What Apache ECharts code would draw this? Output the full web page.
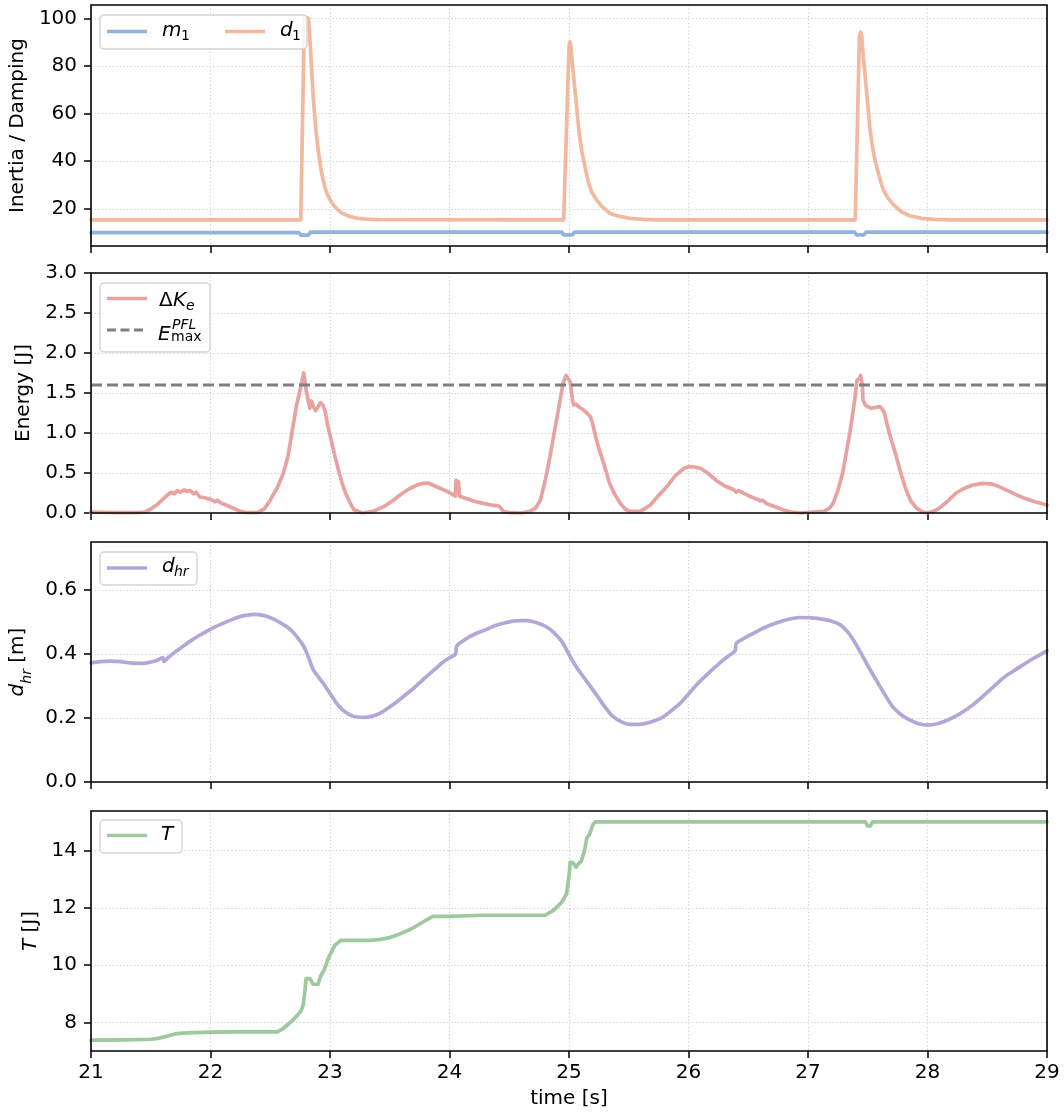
<!DOCTYPE html>
<html>
<head>
<meta charset="utf-8">
<script src="https://cdn.jsdelivr.net/npm/echarts@6/dist/echarts.min.js"></script>
<style>html,body{margin:0;padding:0;background:#fff;}#c{width:1064px;height:1115px;}</style>
</head>
<body>
<div id="c"></div>
<script>
// ---------------- DATA ----------------
const xTicks = [21, 22, 23, 24, 25, 26, 27, 28, 29];
const y1Ticks = [20, 40, 60, 80, 100];
const y2Ticks = [0, 0.5, 1.0, 1.5, 2.0, 2.5, 3.0];
const y3Ticks = [0, 0.2, 0.4, 0.6];
const y4Ticks = [8, 10, 12, 14];

const m1T = [21, 22.74, 22.755, 22.82, 22.835, 24.94, 24.955, 25.03, 25.045, 27.39, 27.405, 27.47, 27.485, 29];
const m1V = [10, 10, 9.0, 9.0, 10.2, 10.2, 9.1, 9.1, 10.2, 10.2, 9.1, 9.1, 10.2, 10.2];

const d1T = [21, 22.755, 22.785, 22.82, 22.835, 22.844, 22.861, 22.884, 22.9, 22.92, 22.94, 22.96, 22.98, 23.0, 23.03, 23.06, 23.1, 23.16, 23.22, 23.3, 23.4,
  24.955, 25.0, 25.007, 25.015, 25.03, 25.045, 25.058, 25.072, 25.085, 25.107, 25.133, 25.16, 25.19, 25.23, 25.27, 25.3, 25.34, 25.41, 25.51, 25.62, 25.75,
  27.395, 27.43, 27.44, 27.45, 27.463, 27.478, 27.491, 27.505, 27.518, 27.54, 27.566, 27.6, 27.63, 27.67, 27.71, 27.74, 27.78, 27.85, 27.95, 28.06, 28.2, 29];
const d1V = [15.4, 15.4, 100.5, 100, 88, 79.7, 65.7, 51.8, 45, 37.8, 32.5, 28.5, 25.8, 23.8, 21.5, 19.8, 18.2, 16.9, 16.1, 15.7, 15.5,
  15.4, 88, 90.2, 88.5, 79.7, 72, 65.7, 58.5, 51.8, 44, 37.8, 31.5, 27, 23.8, 21.3, 20, 18.2, 17, 16, 15.6, 15.4,
  15.4, 92, 94.2, 92.5, 83.3, 76, 68.6, 61, 53.7, 45.5, 39.4, 32.8, 28, 24.5, 22, 20.6, 18.8, 17.1, 16, 15.6, 15.4, 15.4];

const dkT = [21.0, 21.2, 21.4, 21.45, 21.5, 21.55, 21.6, 21.64, 21.67, 21.7, 21.72, 21.75, 21.78, 21.8, 21.83, 21.86, 21.88, 21.91, 21.95, 22.0,
  22.04, 22.06, 22.08, 22.13, 22.19, 22.25, 22.3, 22.39, 22.45, 22.5, 22.56, 22.61, 22.65, 22.69, 22.72, 22.75, 22.78, 22.8, 22.83, 22.845,
  22.86, 22.88, 22.9, 22.92, 22.94, 22.96, 22.98, 23.01, 23.04, 23.07, 23.1, 23.13, 23.17, 23.2, 23.27, 23.36, 23.45, 23.53, 23.6, 23.67,
  23.73, 23.78, 23.82, 23.86, 23.92, 23.98, 24.05, 24.055, 24.075, 24.085, 24.1, 24.14, 24.2, 24.28, 24.35, 24.41, 24.43, 24.45, 24.5, 24.6,
  24.67, 24.72, 24.76, 24.8, 24.84, 24.87, 24.9, 24.93, 24.95, 24.975, 24.99, 25.01, 25.03, 25.04, 25.06, 25.08, 25.1, 25.12, 25.15, 25.18,
  25.2, 25.23, 25.26, 25.29, 25.32, 25.34, 25.38, 25.43, 25.47, 25.51, 25.59, 25.63, 25.68, 25.75, 25.82, 25.88, 25.93, 25.97, 26.01, 26.05,
  26.1, 26.16, 26.23, 26.3, 26.38, 26.4, 26.42, 26.51, 26.58, 26.6, 26.62, 26.65, 26.72, 26.79, 26.86, 26.93, 27.13, 27.18, 27.21, 27.25,
  27.29, 27.32, 27.35, 27.37, 27.39, 27.41, 27.43, 27.44, 27.455, 27.46, 27.48, 27.5, 27.53, 27.57, 27.6, 27.62, 27.64, 27.66, 27.68, 27.71,
  27.74, 27.78, 27.82, 27.86, 27.91, 27.95, 27.99, 28.05, 28.1, 28.17, 28.24, 28.31, 28.38, 28.46, 28.53, 28.6, 28.67, 28.74, 28.82, 28.9, 29.0];
const dkV = [0.01, 0.005, 0.005, 0.01, 0.05, 0.1, 0.17, 0.225, 0.26, 0.24, 0.28, 0.26, 0.29, 0.27, 0.28, 0.24, 0.26, 0.2, 0.19, 0.17,
  0.14, 0.16, 0.13, 0.1, 0.06, 0.02, 0.005, 0.005, 0.05, 0.16, 0.32, 0.5, 0.72, 1.08, 1.35, 1.54, 1.75, 1.54, 1.31, 1.4,
  1.33, 1.28, 1.33, 1.38, 1.35, 1.27, 1.1, 0.91, 0.72, 0.54, 0.38, 0.25, 0.12, 0.04, 0.0, 0.02, 0.08, 0.16, 0.24, 0.31,
  0.35, 0.37, 0.375, 0.35, 0.31, 0.27, 0.21, 0.41, 0.39, 0.21, 0.2, 0.18, 0.15, 0.12, 0.1, 0.09, 0.06, 0.02, 0.005, 0.0,
  0.02, 0.06, 0.16, 0.4, 0.7, 0.95, 1.2, 1.45, 1.62, 1.72, 1.7, 1.64, 1.4, 1.35, 1.36, 1.33, 1.31, 1.29, 1.25, 1.2,
  1.1, 0.91, 0.76, 0.62, 0.47, 0.37, 0.24, 0.12, 0.05, 0.02, 0.02, 0.05, 0.1, 0.22, 0.33, 0.45, 0.52, 0.565, 0.58, 0.575,
  0.56, 0.5, 0.41, 0.34, 0.29, 0.26, 0.28, 0.21, 0.17, 0.15, 0.16, 0.12, 0.08, 0.04, 0.01, 0.0, 0.02, 0.06, 0.12, 0.28,
  0.5, 0.75, 1.0, 1.2, 1.41, 1.66, 1.68, 1.72, 1.6, 1.41, 1.35, 1.33, 1.31, 1.32, 1.33, 1.3, 1.25, 1.12, 1.0, 0.85,
  0.7, 0.48, 0.29, 0.15, 0.06, 0.02, 0.0, 0.02, 0.06, 0.15, 0.25, 0.31, 0.35, 0.37, 0.365, 0.33, 0.28, 0.23, 0.18, 0.14, 0.1];

const emaxT = [21, 29];
const emaxV = [1.6, 1.6];

const dhrT = [21.0, 21.08, 21.16, 21.25, 21.33, 21.44, 21.5, 21.55, 21.6, 21.61, 21.65, 21.7, 21.77, 21.85, 21.93, 22.0, 22.1, 22.19, 22.27, 22.36,
  22.45, 22.53, 22.6, 22.67, 22.73, 22.78, 22.82, 22.86, 22.95, 23.0, 23.08, 23.17, 23.28, 23.35, 23.42, 23.49, 23.56, 23.63, 23.7, 23.77,
  23.84, 23.9, 23.95, 24.0, 24.05, 24.06, 24.11, 24.17, 24.24, 24.31, 24.38, 24.45, 24.52, 24.59, 24.65, 24.7, 24.76, 24.81, 24.87, 24.93,
  24.97, 25.01, 25.06, 25.12, 25.18, 25.24, 25.3, 25.37, 25.44, 25.51, 25.58, 25.65, 25.72, 25.79, 25.86, 25.93, 26.0, 26.07, 26.15, 26.22,
  26.29, 26.35, 26.39, 26.4, 26.48, 26.57, 26.65, 26.74, 26.83, 26.93, 27.03, 27.13, 27.2, 27.27, 27.33, 27.38, 27.42, 27.46, 27.51, 27.57,
  27.64, 27.71, 27.78, 27.85, 27.92, 28.0, 28.08, 28.16, 28.27, 28.38, 28.5, 28.63, 28.72, 28.8, 28.9, 29.0];
const dhrV = [0.372, 0.376, 0.378, 0.376, 0.372, 0.371, 0.375, 0.38, 0.389, 0.377, 0.39, 0.405, 0.424, 0.445, 0.463, 0.478, 0.495, 0.509, 0.519, 0.524,
  0.52, 0.509, 0.494, 0.476, 0.45, 0.424, 0.39, 0.351, 0.305, 0.277, 0.235, 0.209, 0.202, 0.205, 0.215, 0.232, 0.251, 0.272, 0.293, 0.317,
  0.34, 0.36, 0.376, 0.388, 0.4, 0.425, 0.44, 0.454, 0.467, 0.477, 0.488, 0.496, 0.502, 0.504, 0.504, 0.501, 0.494, 0.485, 0.468, 0.444,
  0.42, 0.392, 0.36, 0.329, 0.298, 0.267, 0.235, 0.204, 0.188, 0.18, 0.18, 0.184, 0.192, 0.204, 0.224, 0.246, 0.275, 0.305, 0.334, 0.358,
  0.381, 0.398, 0.41, 0.433, 0.452, 0.47, 0.485, 0.498, 0.508, 0.514, 0.513, 0.508, 0.502, 0.491, 0.47, 0.444, 0.418, 0.392, 0.357, 0.319,
  0.275, 0.235, 0.21, 0.194, 0.183, 0.178, 0.182, 0.192, 0.213, 0.241, 0.28, 0.324, 0.347, 0.366, 0.389, 0.41];

const tT = [21.0, 21.3, 21.5, 21.56, 21.61, 21.67, 21.72, 21.8, 22.0, 22.2, 22.56, 22.6, 22.64, 22.69, 22.74, 22.76, 22.775, 22.79, 22.8, 22.83,
  22.86, 22.9, 22.92, 22.935, 22.95, 22.99, 23.04, 23.09, 23.34, 23.42, 23.5, 23.58, 23.67, 23.76, 23.86, 24.0, 24.28, 24.8, 24.87, 24.94,
  24.98, 25.0, 25.01, 25.03, 25.06, 25.08, 25.1, 25.13, 25.15, 25.17, 25.2, 25.22, 27.48, 27.5, 27.52, 27.54, 29.0];
const tV = [7.38, 7.39, 7.41, 7.44, 7.49, 7.56, 7.61, 7.63, 7.66, 7.67, 7.67, 7.76, 7.9, 8.08, 8.31, 8.42, 8.6, 9.1, 9.53, 9.53,
  9.33, 9.33, 9.6, 9.66, 9.82, 10.28, 10.69, 10.86, 10.86, 10.9, 10.96, 11.08, 11.24, 11.46, 11.70, 11.70, 11.74, 11.74, 11.91, 12.2,
  12.49, 13.1, 13.59, 13.59, 13.42, 13.55, 13.6, 14.0, 14.45, 14.55, 14.9, 15.0, 15.0, 14.85, 14.85, 15.0, 15.0];

// ---------------- STYLE ----------------
const FONT = 'DejaVu Sans';
const FS = 20, FSS = 14;
const C_M1 = '#91b3dc', C_D1 = '#f2b8a0', C_DK = '#e8a2a2', C_DHR = '#b3a7d8', C_T = '#9ec89e', C_EM = '#7f7f7f';
const LW = 3.7;
const zip = (a, b) => a.map((v, i) => [v, b[i]]);

const gridBoxes = [
  {left: 91, top: 5, width: 956, height: 241},
  {left: 91, top: 273, width: 956, height: 240},
  {left: 91, top: 542, width: 956, height: 240},
  {left: 91, top: 811, width: 956, height: 240}
];
const grids = gridBoxes.map(g => Object.assign({}, g, {show: false, containLabel: false}));

const gridLine = {show: true, lineStyle: {color: '#cccccc', width: 1.1, type: [1.2, 2.4]}};

const xAxes = [0, 1, 2, 3].map(i => ({
  gridIndex: i, type: 'value', min: 21, max: 29, interval: 1,
  axisLine: {show: false},
  axisTick: {show: true, length: 7, inside: false, lineStyle: {color: '#000', width: 1.5}},
  axisLabel: {show: i === 3, color: '#000', fontFamily: FONT, fontSize: FS, margin: 12},
  splitLine: gridLine,
  name: i === 3 ? 'time [s]' : '',
  nameLocation: 'middle', nameGap: 38,
  nameTextStyle: {color: '#000', fontFamily: FONT, fontSize: FS}
}));

function yAx(i, min, max, ticks, name, gap, rich, fmt) {
  return {
    gridIndex: i, type: 'value', min: min, max: max,
    axisLine: {show: false},
    axisTick: {show: true, length: 7, lineStyle: {color: '#000', width: 1.5}, customValues: ticks},
    axisLabel: {show: true, color: '#000', fontFamily: FONT, fontSize: FS, margin: 14, customValues: ticks, formatter: fmt},
    splitLine: gridLine,
    name: name, nameLocation: 'middle', nameGap: gap,
    nameTextStyle: {color: '#000', fontFamily: FONT, fontSize: FS, rich: rich || {}}
  };
}
const richSub = {
  i: {fontFamily: FONT, fontSize: FS, fontStyle: 'italic', color: '#000', verticalAlign: 'top', padding: [0, 0, 6, 0]},
  s: {fontFamily: FONT, fontSize: FSS, fontStyle: 'italic', color: '#000', verticalAlign: 'bottom'},
  n: {fontFamily: FONT, fontSize: FS, color: '#000', verticalAlign: 'top', padding: [0, 0, 6, 0]}
};
const richI = {
  i: {fontFamily: FONT, fontSize: FS, fontStyle: 'italic', color: '#000'},
  n: {fontFamily: FONT, fontSize: FS, color: '#000'}
};

const yAxes = [
  yAx(0, 4.4, 105.6, y1Ticks, 'Inertia / Damping', 57, null, v => String(Math.round(v))),
  yAx(1, 0, 3, y2Ticks, 'Energy [J]', 56, null, v => v.toFixed(1)),
  yAx(2, 0, 0.75, y3Ticks, '{i|d}{s|hr}{n| [m]}', 54, richSub, v => v.toFixed(1)),
  yAx(3, 7.0, 15.38, y4Ticks, '{i|T}{n| [J]}', 50, richI, v => String(Math.round(v)))
];

function line(name, xi, t, v, color, extra) {
  return Object.assign({
    type: 'line', name: name, xAxisIndex: xi, yAxisIndex: xi, data: zip(t, v),
    symbol: 'none', showSymbol: false, silent: true,
    lineStyle: {color: color, width: LW, cap: 'round', join: 'round'}, z: 3
  }, extra || {});
}

const series = [
  line('m1', 0, m1T, m1V, C_M1),
  line('d1', 0, d1T, d1V, C_D1),
  line('Emax', 1, emaxT, emaxV, C_EM, {lineStyle: {color: C_EM, width: 3.2, type: [11, 5]}, z: 4}),
  line('dK', 1, dkT, dkV, C_DK),
  line('dhr', 2, dhrT, dhrV, C_DHR, {smooth: 0.3}),
  line('T', 3, tT, tV, C_T)
];

// ---------------- LEGENDS + FRAMES (graphic) ----------------
function frame(g) {
  return {type: 'rect', shape: {x: g.left, y: g.top, width: g.width, height: g.height}, style: {fill: null, stroke: '#000', lineWidth: 1.6}, z: 100, silent: true};
}
function box(x, y, w, h) {
  return {type: 'rect', shape: {x: x, y: y, width: w, height: h, r: 4}, style: {fill: 'rgba(255,255,255,0.85)', stroke: '#d4d4d4', lineWidth: 1.4}, z: 50};
}
function sample(x1, x2, y, color, dash) {
  return {type: 'line', shape: {x1: x1, y1: y, x2: x2, y2: y}, style: {stroke: color, lineWidth: dash ? 3.2 : LW, lineDash: dash || null}, z: 51};
}
// baseline -> middle: baseline - 0.346*size
function txt(x, baseline, s, size, italic) {
  return {type: 'text', x: x, y: baseline - 0.346 * size, z: 52,
    style: {text: s, fontFamily: FONT, fontSize: size, fontStyle: italic ? 'italic' : 'normal', fill: '#000', align: 'left', verticalAlign: 'middle'}};
}
const graphic = gridBoxes.map(frame).concat([
  box(100, 15, 207, 34),
  sample(107, 147, 31.5, C_M1), txt(162, 37.5, 'm', FS, true), txt(181, 41, '1', FSS, false),
  sample(225, 265, 31.5, C_D1), txt(280, 37.5, 'd', FS, true), txt(292, 41, '1', FSS, false),

  box(100, 283, 110, 69),
  sample(107, 147, 298.5, C_DK), txt(159, 307.8, 'Δ', FS, false), txt(173, 307.8, 'K', FS, true), txt(186, 311.5, 'e', FSS, true),
  sample(107, 147, 330, C_EM, [9, 4.5]), txt(158, 341.7, 'E', FS, true), txt(172, 330.3, 'PFL', FSS, true), txt(171, 342.5, 'max', FSS, false),

  box(100, 552, 97, 33),
  sample(107, 147, 568, C_DHR), txt(162, 573.5, 'd', FS, true), txt(174, 577.5, 'hr', FSS, true),

  box(100, 820, 82, 33),
  sample(107, 147, 835.5, C_T), txt(161, 841.8, 'T', FS, true)
]);

const chart = echarts.init(document.getElementById('c'), null, {renderer: 'canvas'});
chart.setOption({
  animation: false,
  backgroundColor: '#ffffff',
  textStyle: {fontFamily: FONT},
  grid: grids,
  xAxis: xAxes,
  yAxis: yAxes,
  series: series,
  graphic: graphic
});
</script>
</body>
</html>
